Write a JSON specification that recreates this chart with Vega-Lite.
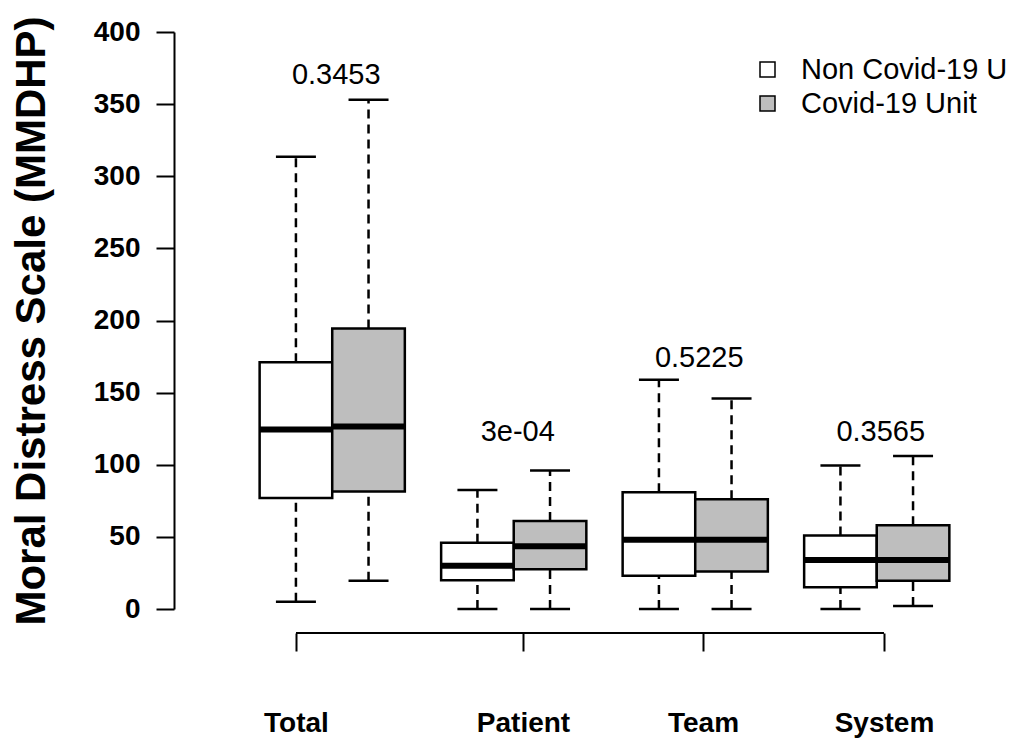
{
  "$schema": "https://vega.github.io/schema/vega-lite/v6.json",
  "width": 844,
  "height": 577,
  "autosize": {"type": "none"},
  "padding": {"left": 174, "top": 32, "right": 0, "bottom": 132},
  "background": "white",
  "config": {
    "view": {"stroke": null},
    "font": "Liberation Sans",
    "axis": {"grid": false},
    "axisY": {
      "labelFontSize": 28,
      "labelFontWeight": "bold",
      "labelFont": "Liberation Sans",
      "labelColor": "black",
      "labelPadding": 16,
      "tickSize": 18,
      "tickWidth": 2,
      "tickColor": "black",
      "domainColor": "black",
      "domainWidth": 2,
      "titleFont": "Liberation Sans",
      "titleFontSize": 42,
      "titleFontWeight": "bold",
      "titleColor": "black",
      "titleX": -121
    }
  },
  "datasets": {
    "stats": [
      {"group": "Total", "unit": "Non Covid-19 U", "min": 5, "q1": 77, "median": 124.5, "q3": 171, "max": 313.5},
      {"group": "Total", "unit": "Covid-19 Unit", "min": 19.5, "q1": 81.5, "median": 126.5, "q3": 194.5, "max": 353},
      {"group": "Patient", "unit": "Non Covid-19 U", "min": 0, "q1": 20, "median": 30, "q3": 46, "max": 82.5},
      {"group": "Patient", "unit": "Covid-19 Unit", "min": 0, "q1": 27.5, "median": 43.5, "q3": 61, "max": 96},
      {"group": "Team", "unit": "Non Covid-19 U", "min": 0, "q1": 23, "median": 48, "q3": 81, "max": 159},
      {"group": "Team", "unit": "Covid-19 Unit", "min": 0, "q1": 26, "median": 48, "q3": 76, "max": 146},
      {"group": "System", "unit": "Non Covid-19 U", "min": 0, "q1": 15, "median": 34, "q3": 51, "max": 99.5},
      {"group": "System", "unit": "Covid-19 Unit", "min": 2, "q1": 19.5, "median": 34, "q3": 58, "max": 106}
    ],
    "pvals": [
      {"group": "Total", "p": "0.3453", "label_y": 370},
      {"group": "Patient", "p": "3e-04", "label_y": 123},
      {"group": "Team", "p": "0.5225", "label_y": 174},
      {"group": "System", "p": "0.3565", "label_y": 123}
    ]
  },
  "layer": [
    {
      "encoding": {
        "x": {
          "field": "group",
          "type": "nominal",
          "sort": ["Total", "Patient", "Team", "System"],
          "scale": {"domain": ["Total", "Patient", "Team", "System"], "paddingInner": 0.2, "paddingOuter": 0.425, "align": 0.555},
          "axis": null
        }
      },
      "layer": [
        {
          "data": {"name": "stats"},
          "mark": {"type": "rule", "strokeDash": [9, 6], "strokeWidth": 2.5, "color": "black"},
          "encoding": {
            "xOffset": {"field": "unit", "type": "nominal", "scale": {"domain": ["Non Covid-19 U", "Covid-19 Unit"], "paddingInner": 0, "paddingOuter": 0}},
            "y": {
              "field": "q3",
              "type": "quantitative",
              "scale": {"domain": [0, 400], "nice": false, "zero": false},
              "title": "Moral Distress Scale (MMDHP)",
              "axis": {"values": [0, 50, 100, 150, 200, 250, 300, 350, 400]}
            },
            "y2": {"field": "max"}
          }
        },
        {
          "data": {"name": "stats"},
          "mark": {"type": "rule", "strokeDash": [9, 6], "strokeWidth": 2.5, "color": "black"},
          "encoding": {
            "xOffset": {"field": "unit", "type": "nominal", "scale": {"domain": ["Non Covid-19 U", "Covid-19 Unit"], "paddingInner": 0, "paddingOuter": 0}},
            "y": {"field": "min", "type": "quantitative", "title": "Moral Distress Scale (MMDHP)"},
            "y2": {"field": "q1"}
          }
        },
        {
          "data": {"name": "stats"},
          "mark": {"type": "tick", "orient": "horizontal", "size": 40, "thickness": 2.5, "color": "black", "opacity": 1},
          "encoding": {
            "xOffset": {"field": "unit", "type": "nominal", "scale": {"domain": ["Non Covid-19 U", "Covid-19 Unit"], "paddingInner": 0, "paddingOuter": 0}},
            "y": {"field": "max", "type": "quantitative", "title": "Moral Distress Scale (MMDHP)"}
          }
        },
        {
          "data": {"name": "stats"},
          "mark": {"type": "tick", "orient": "horizontal", "size": 40, "thickness": 2.5, "color": "black", "opacity": 1},
          "encoding": {
            "xOffset": {"field": "unit", "type": "nominal", "scale": {"domain": ["Non Covid-19 U", "Covid-19 Unit"], "paddingInner": 0, "paddingOuter": 0}},
            "y": {"field": "min", "type": "quantitative", "title": "Moral Distress Scale (MMDHP)"}
          }
        },
        {
          "data": {"name": "stats"},
          "mark": {"type": "bar", "stroke": "black", "strokeWidth": 2.5, "opacity": 1},
          "encoding": {
            "xOffset": {"field": "unit", "type": "nominal", "scale": {"domain": ["Non Covid-19 U", "Covid-19 Unit"], "paddingInner": 0, "paddingOuter": 0}},
            "y": {"field": "q1", "type": "quantitative", "title": "Moral Distress Scale (MMDHP)"},
            "y2": {"field": "q3"},
            "fill": {
              "field": "unit",
              "type": "nominal",
              "scale": {"domain": ["Non Covid-19 U", "Covid-19 Unit"], "range": ["#ffffff", "#bebebe"]},
              "legend": {
                "title": null,
                "orient": "none",
                "legendX": 579,
                "legendY": 23,
                "padding": 0,
                "symbolType": "square",
                "symbolSize": 225,
                "symbolStrokeColor": "black",
                "symbolStrokeWidth": 1.5,
                "symbolOpacity": 1,
                "labelFont": "Liberation Sans",
                "labelFontSize": 29,
                "labelColor": "black",
                "labelOffset": 19,
                "labelLimit": 400,
                "rowPadding": 4
              }
            }
          }
        },
        {
          "data": {"name": "stats"},
          "mark": {"type": "tick", "orient": "horizontal", "size": 72, "thickness": 6, "color": "black", "opacity": 1},
          "encoding": {
            "xOffset": {"field": "unit", "type": "nominal", "scale": {"domain": ["Non Covid-19 U", "Covid-19 Unit"], "paddingInner": 0, "paddingOuter": 0}},
            "y": {"field": "median", "type": "quantitative", "title": "Moral Distress Scale (MMDHP)"}
          }
        },
        {
          "data": {"name": "pvals"},
          "mark": {"type": "text", "font": "Liberation Sans", "fontSize": 29, "color": "black", "baseline": "middle", "align": "center", "dx": 4},
          "encoding": {
            "y": {"field": "label_y", "type": "quantitative", "title": "Moral Distress Scale (MMDHP)"},
            "text": {"field": "p", "type": "nominal"}
          }
        }
      ]
    },
    {
      "data": {"values": [{}]},
      "mark": {"type": "rule", "strokeWidth": 2, "color": "black"},
      "encoding": {
        "x": {
          "datum": 1,
          "type": "quantitative",
          "scale": {"domain": [-0.6804, 10.945], "nice": false, "zero": false},
          "axis": {
            "orient": "bottom",
            "values": [1, 4.127, 6.606, 9.099],
            "offset": 24,
            "domain": false,
            "tickSize": 18,
            "tickWidth": 2,
            "tickColor": "black",
            "labelExpr": "datum.value < 2 ? 'Total' : datum.value < 5 ? 'Patient' : datum.value < 8 ? 'Team' : 'System'",
            "labelFont": "Liberation Sans",
            "labelFontSize": 28,
            "labelFontWeight": "bold",
            "labelColor": "black",
            "labelPadding": 58,
            "labelBaseline": "top",
            "labelFlush": false,
            "labelOverlap": false,
            "title": null
          }
        },
        "x2": {"datum": 9.099},
        "y": {"datum": -16.64, "type": "quantitative", "title": "Moral Distress Scale (MMDHP)"}
      }
    }
  ],
  "resolve": {"scale": {"x": "independent"}, "axis": {"x": "independent"}}
}
